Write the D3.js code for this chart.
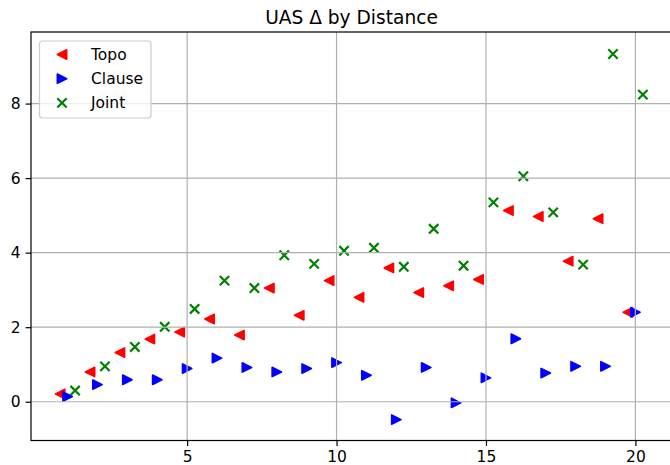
<!DOCTYPE html>
<html>
<head>
<meta charset="utf-8">
<script src="https://cdn.jsdelivr.net/npm/d3@7"></script>
<style>
  body { margin: 0; background: #fff; }
  text { font-family: "DejaVu Sans", sans-serif; fill: #000; }
</style>
</head>
<body>
<div id="chart"></div>
<script>
// distances 1..20, values
const distances = [1, 2, 3, 4, 5, 6, 7, 8, 9, 10, 11, 12, 13, 14, 15, 16, 17, 18, 19, 20];
const topoValues = [0.21, 0.80, 1.32, 1.68, 1.87, 2.22, 1.79, 3.05, 2.32, 3.25,
                    2.80, 3.59, 2.93, 3.11, 3.28, 5.13, 4.97, 3.77, 4.91, 2.40];
const clauseValues = [0.14, 0.46, 0.59, 0.59, 0.89, 1.17, 0.92, 0.80, 0.89, 1.05,
                      0.71, -0.48, 0.92, -0.03, 0.64, 1.69, 0.77, 0.95, 0.95, 2.40];
const jointValues = [0.30, 0.95, 1.47, 2.01, 2.49, 3.25, 3.05, 3.93, 3.70, 4.05,
                     4.13, 3.62, 4.64, 3.65, 5.35, 6.05, 5.08, 3.68, 9.33, 8.24];
const seriesNames = ['Topo', 'Clause', 'Joint'];
const xTicks = [5, 10, 15, 20];
const yTicks = [0, 2, 4, 6, 8];

const width = 670, height = 465;
const margin = {left: 31, right: -2, top: 32, bottom: 24.5};

const series = [
  {name: seriesNames[0], values: topoValues, offset: -0.25, color: '#ff0000', shape: 'left'},
  {name: seriesNames[1], values: clauseValues, offset: 0, color: '#0000ff', shape: 'right'},
  {name: seriesNames[2], values: jointValues, offset: 0.25, color: '#008000', shape: 'x'}
];

const x = d3.scaleLinear()
  .domain([-0.225, 21.225])
  .range([margin.left, width - margin.right]);
const y = d3.scaleLinear()
  .domain([-1.04, 9.92])
  .range([height - margin.bottom, margin.top]);

const svg = d3.select('#chart').append('svg')
  .attr('width', width).attr('height', height);

const ms = 4.67; // half marker size in px

function markerPath(shape) {
  if (shape === 'left') return `M${-ms},0L${ms},${-ms}L${ms},${ms}Z`;
  if (shape === 'right') return `M${ms},0L${-ms},${-ms}L${-ms},${ms}Z`;
  return `M${-ms},${-ms}L${ms},${ms}M${-ms},${ms}L${ms},${-ms}`;
}

function styleMarker(sel, s) {
  if (s.shape === 'x') {
    sel.attr('fill', 'none').attr('stroke', s.color).attr('stroke-width', 2.2);
  } else {
    sel.attr('fill', s.color).attr('stroke', s.color)
      .attr('stroke-width', 1.6).attr('stroke-linejoin', 'round');
  }
}

// markers
series.forEach(s => {
  const g = svg.append('g');
  g.selectAll('path')
    .data(distances.map((d, i) => ({d: d, v: s.values[i]})))
    .join('path')
    .attr('transform', p => `translate(${x(p.d + s.offset)},${y(p.v)})`)
    .attr('d', markerPath(s.shape))
    .call(styleMarker, s);
});

// grid (drawn above markers like matplotlib's default)
const grid = svg.append('g').attr('stroke', '#b0b0b0').attr('stroke-width', 1.2);
grid.selectAll('.gx').data(xTicks).join('line')
  .attr('x1', d => x(d)).attr('x2', d => x(d))
  .attr('y1', y.range()[0]).attr('y2', y.range()[1]);
grid.selectAll('.gy').data(yTicks).join('line')
  .attr('y1', d => y(d)).attr('y2', d => y(d))
  .attr('x1', x.range()[0]).attr('x2', x.range()[1]);

// axes
const xAxis = svg.append('g')
  .attr('transform', `translate(0,${height - margin.bottom})`)
  .call(d3.axisBottom(x).tickValues(xTicks).tickSize(5.4).tickPadding(5).tickFormat(d3.format('d')));
const yAxis = svg.append('g')
  .attr('transform', `translate(${margin.left},0)`)
  .call(d3.axisLeft(y).tickValues(yTicks).tickSize(5.4).tickPadding(5).tickFormat(d3.format('d')));
[xAxis, yAxis].forEach(a => {
  a.select('.domain').remove();
  a.selectAll('line').attr('stroke', '#000').attr('stroke-width', 1.2);
  a.selectAll('text').attr('font-size', '15.5px').attr('font-family', '"DejaVu Sans", sans-serif');
});

// spines
svg.append('rect')
  .attr('x', x.range()[0]).attr('y', y.range()[1])
  .attr('width', x.range()[1] - x.range()[0])
  .attr('height', y.range()[0] - y.range()[1])
  .attr('fill', 'none').attr('stroke', '#000').attr('stroke-width', 1.2);

// title
svg.append('text')
  .attr('x', (x.range()[0] + x.range()[1]) / 2)
  .attr('y', 23.5)
  .attr('text-anchor', 'middle')
  .attr('font-size', '18.6px')
  .text('UAS \u0394 by Distance');

// legend
const legend = svg.append('g');
legend.append('rect')
  .attr('x', 39.5).attr('y', 41).attr('width', 111.5).attr('height', 77)
  .attr('rx', 3).attr('fill', '#fff').attr('fill-opacity', 0.8)
  .attr('stroke', '#cccccc').attr('stroke-width', 1.2);
series.forEach((s, i) => {
  const cy = 54.5 + i * 24.2;
  legend.append('path')
    .attr('transform', `translate(62,${cy})`)
    .attr('d', markerPath(s.shape))
    .call(styleMarker, s);
  legend.append('text')
    .attr('x', 91).attr('y', cy).attr('dy', '0.36em')
    .attr('font-size', '15.5px')
    .text(s.name);
});
</script>
</body>
</html>
